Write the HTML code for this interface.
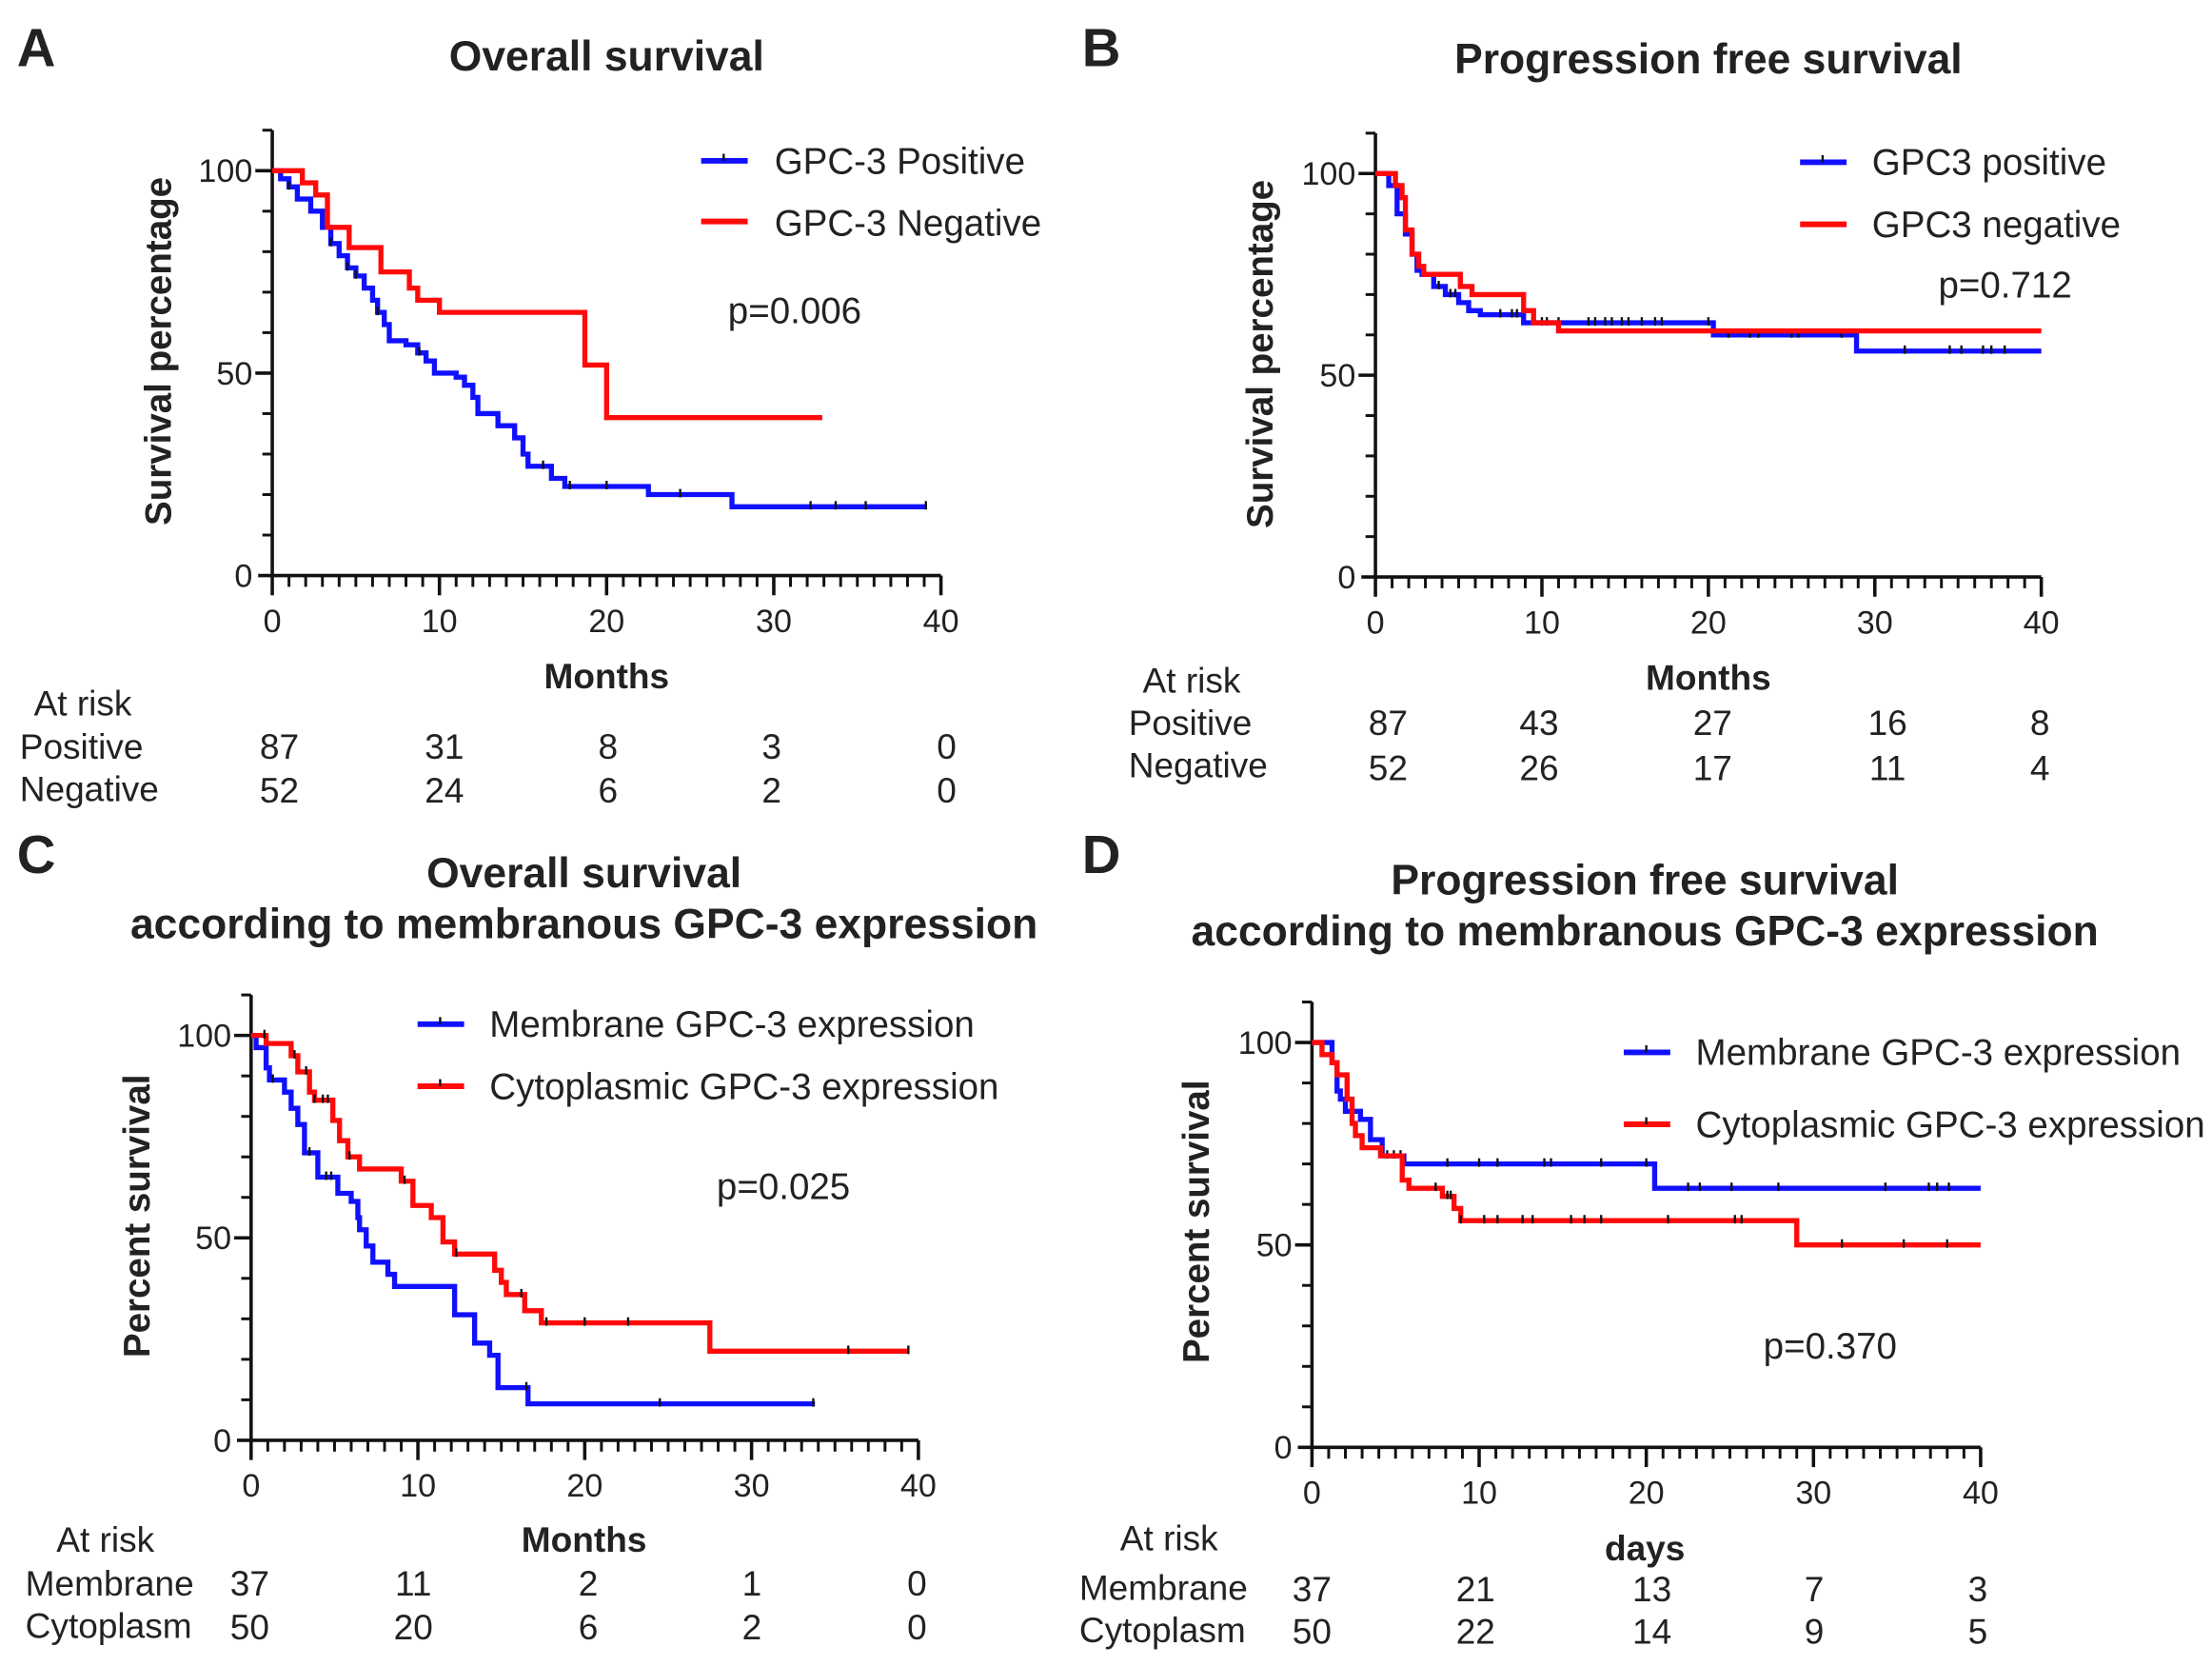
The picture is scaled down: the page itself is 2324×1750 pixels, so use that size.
<!DOCTYPE html>
<html><head><meta charset="utf-8">
<style>
html,body{margin:0;padding:0;background:#fff;}
svg{display:block;}
text{font-family:"Liberation Sans",Arial,sans-serif;fill:#222;}
.b{font-weight:bold;}
</style></head>
<body>
<svg id="fig" width="2324" height="1750" viewBox="0 0 1568 1181" preserveAspectRatio="none" xmlns="http://www.w3.org/2000/svg">
<rect width="1568" height="1181" fill="#fff"/>
<g>
<text x="12" y="47" class="b" font-size="38">A</text>
<text x="430" y="50" class="b" font-size="30" text-anchor="middle">Overall survival</text>
<text transform="translate(121,249) rotate(-90)" class="b" font-size="26" text-anchor="middle">Survival percentage</text>
<text x="430" y="488" class="b" font-size="25" text-anchor="middle">Months</text>
<text x="549" y="123" font-size="26">GPC-3 Positive</text>
<text x="549" y="167" font-size="26">GPC-3 Negative</text>
<text x="516" y="229" font-size="26">p=0.006</text>
<text x="24" y="507" font-size="25">At risk</text>
<text x="14" y="538" font-size="25">Positive</text>
<text x="14" y="568" font-size="25">Negative</text>
</g>
<g>
<text x="767" y="47" class="b" font-size="38">B</text>
<text x="1211" y="52" class="b" font-size="30" text-anchor="middle">Progression free survival</text>
<text transform="translate(902,251) rotate(-90)" class="b" font-size="26" text-anchor="middle">Survival percentage</text>
<text x="1211" y="489" class="b" font-size="25" text-anchor="middle">Months</text>
<text x="1327" y="124" font-size="26">GPC3 positive</text>
<text x="1327" y="168" font-size="26">GPC3 negative</text>
<text x="1374" y="211" font-size="26">p=0.712</text>
<text x="810" y="491" font-size="25">At risk</text>
<text x="800" y="521" font-size="25">Positive</text>
<text x="800" y="551" font-size="25">Negative</text>
</g>
<g>
<text x="12" y="619" class="b" font-size="38">C</text>
<text x="414" y="629" class="b" font-size="30" text-anchor="middle">Overall survival</text>
<text x="414" y="665" class="b" font-size="30" text-anchor="middle">according to membranous GPC-3 expression</text>
<text transform="translate(106,862) rotate(-90)" class="b" font-size="26" text-anchor="middle">Percent survival</text>
<text x="414" y="1100" class="b" font-size="25" text-anchor="middle">Months</text>
<text x="347" y="735" font-size="26">Membrane GPC-3 expression</text>
<text x="347" y="779" font-size="26">Cytoplasmic GPC-3 expression</text>
<text x="508" y="850" font-size="26">p=0.025</text>
<text x="40" y="1100" font-size="25">At risk</text>
<text x="18" y="1131" font-size="25">Membrane</text>
<text x="18" y="1161" font-size="25">Cytoplasm</text>
</g>
<g>
<text x="767" y="619" class="b" font-size="38">D</text>
<text x="1166" y="634" class="b" font-size="30" text-anchor="middle">Progression free survival</text>
<text x="1166" y="670" class="b" font-size="30" text-anchor="middle">according to membranous GPC-3 expression</text>
<text transform="translate(857,866) rotate(-90)" class="b" font-size="26" text-anchor="middle">Percent survival</text>
<text x="1166" y="1106" class="b" font-size="25" text-anchor="middle">days</text>
<text x="1202" y="755" font-size="26">Membrane GPC-3 expression</text>
<text x="1202" y="806" font-size="26">Cytoplasmic GPC-3 expression</text>
<text x="1250" y="963" font-size="26">p=0.370</text>
<text x="794" y="1099" font-size="25">At risk</text>
<text x="765" y="1134" font-size="25">Membrane</text>
<text x="765" y="1164" font-size="25">Cytoplasm</text>
</g>
</svg>
<script>
// ---- Data ----
const xTicks = [0, 10, 20, 30, 40];
const yTicks = [0, 50, 100];
// Panel A
const aPosT = [0.5,1,1.5,2.3,3,3.5,4,4.5,5,5.5,6,6.3,6.7,7,8,8.7,9.2,9.7,11,11.5,12,12.3,13.5,14.5,15,15.3,16.7,17.5,22.5,27.5];
const aPosS = [98,96,93,90,86,82,79,76,74,71,68,65,62,58,57,55,53,50,49,47,44,40,37,34,30,27,24,22,20,17];
const aPosEnd = 39.1;
const aPosCens = [1,3.5,4.5,5,6.3,8.8,16.2,17.8,20,24.4,32.2,33.7,35.5,39.1];
const aNegT = [1.8,2.6,3.3,4.6,6.5,8.2,8.7,10,18.7,20];
const aNegS = [97,94,86,81,75,71,68,65,52,39];
const aNegEnd = 32.9;
const aNegCens = [];
const aRiskPos = [87,31,8,3,0];
const aRiskNeg = [52,24,6,2,0];
// Panel B
const bPosT = [0.8,1.3,1.8,2.2,2.5,2.8,3.5,4.2,5,5.6,6.3,8.9,20.3,28.9];
const bPosS = [97,90,85,80,76,75,72,70,68,66,65,63,60,56];
const bPosEnd = 40;
const bPosCens = [3.8,4.5,4.8,7.5,8.2,8.5,10,10.3,11,12.8,13.2,13.8,14.2,14.8,15.2,16,16.8,17.2,20,21.2,22.5,23,25,25.4,28,31.8,34.5,35.2,36.5,37,37.8];
const bNegT = [1.2,1.6,1.8,2.2,2.6,2.9,5.1,5.8,8.9,9.5,11];
const bNegS = [97,94,86,80,77,75,72,70,66,63,61];
const bNegEnd = 40;
const bNegCens = [];
const bRiskPos = [87,43,27,16,8];
const bRiskNeg = [52,26,17,11,4];
// Panel C
const cMemT = [0.3,0.9,1.1,2,2.4,2.8,3.2,4,5.2,6,6.4,6.5,6.9,7.3,8.2,8.6,12.2,13.4,14.3,14.8,16.6];
const cMemS = [97,92,89,86,82,78,71,65,61,59,55,52,48,44,41,38,31,24,21,13,9];
const cMemEnd = 33.8;
const cMemCens = [1.3,3.5,4.5,4.8,16.5,24.5,33.7];
const cCytT = [0.9,2.4,2.8,3.5,3.8,4.9,5.3,5.8,6.5,9,9.7,10.8,11.5,12.2,14.6,15,15.3,16.4,17.4,27.5];
const cCytS = [98,95,91,86,84,79,74,70,67,64,58,55,49,46,42,39,36,32,29,22];
const cCytEnd = 39.4;
const cCytCens = [0.8,2.6,3.3,3.8,4.3,4.6,5.9,9.2,12.3,16.2,17.7,20,22.6,35.8,39.4];
const cRiskMem = [37,11,2,1,0];
const cRiskCyt = [50,20,6,2,0];
// Panel D
const dMemT = [1.2,1.5,1.7,2.0,2.9,3.5,4.2,5.5,20.5];
const dMemS = [95,88,86,83,81,76,72,70,64];
const dMemEnd = 40;
const dMemCens = [4.5,4.9,5.3,8.1,10,11.1,13.9,14.3,17.3,20,22.5,23.2,25.1,27.9,34.3,36.9,37.4,38.1];
const dCytT = [0.6,1.2,1.5,2.1,2.4,2.6,3.0,4.1,5.4,5.8,7.8,8.5,8.9,29];
const dCytS = [97,95,92,86,80,77,74,72,66,64,62,59,56,50];
const dCytEnd = 40;
const dCytCens = [7.4,8.1,8.3,8.9,10.3,11.1,12.6,13.2,15.5,16.3,17.3,21.3,25.3,25.7,31.7,35.4,38];
const dRiskMem = [37,21,13,7,3];
const dRiskCyt = [50,22,14,9,5];

const NS = "http://www.w3.org/2000/svg";
const svg = document.getElementById('fig');
function mk(tag, attrs, parent){
  const e = document.createElementNS(NS, tag);
  for (const k in attrs) e.setAttribute(k, attrs[k]);
  (parent||svg).appendChild(e);
  return e;
}
const BLUE = "#1010ff", RED = "#ff0a0a";

function panel(id, g, series, risk){
  const xs = v => g.x0 + (g.x1 - g.x0) * v / 40;
  const ys = v => g.y0 - (g.y0 - g.y100) * v / 100;
  const grp = mk('g', {});
  
  
  const ax = mk('g', {stroke:'#111', 'stroke-width':2.4, fill:'none'}, grp);
  
  
  mk('line', {x1:g.x0, y1:ys(110), x2:g.x0, y2:g.y0}, ax);
  mk('line', {x1:g.x0-10, y1:g.y0, x2:g.x1, y2:g.y0}, ax);
  for (let v = 10; v <= 110; v += 10){
    const major = yTicks.indexOf(v) >= 0;
    mk('line', {x1:g.x0 - (major?12:7), y1:ys(v), x2:g.x0, y2:ys(v), 'stroke-width':major?2.4:2}, ax);
  }
  for (let m = 1; m <= 40; m++){
    const major = m % 10 === 0;
    mk('line', {x1:xs(m), y1:g.y0, x2:xs(m), y2:g.y0 + (major?14:8), 'stroke-width':major?2.4:2}, ax);
  }
  mk('line', {x1:g.x0, y1:g.y0, x2:g.x0, y2:g.y0 + 14}, ax);
  yTicks.forEach(v => {
    const t = mk('text', {x:g.x0 - 14, y:ys(v) + 8, 'font-size':23, 'text-anchor':'end'}, grp);
    
    
    t.textContent = v;
  });
  xTicks.forEach(v => {
    const t = mk('text', {x:xs(v), y:g.y0 + 40, 'font-size':23, 'text-anchor':'middle'}, grp);
    
    
    t.textContent = v;
  });
  series.forEach(s => {
    let d = 'M' + xs(0) + ' ' + ys(100);
    for (let i = 0; i < s.t.length; i++) d += ' H' + xs(s.t[i]) + ' V' + ys(s.s[i]);
    d += ' H' + xs(s.end);
    const p = mk('path', {d:d, stroke:s.color, 'stroke-width':3.6, fill:'none'}, grp);
    
    
    s.cens.forEach(c => {
      let val = 100;
      for (let i = 0; i < s.t.length; i++) if (s.t[i] <= c) val = s.s[i];
      const m = mk('line', {x1:xs(c), y1:ys(val) - 4, x2:xs(c), y2:ys(val) + 2, stroke:'#111', 'stroke-width':1.6}, grp);
      
      
    });
    const l = mk('line', {x1:s.lx, y1:s.ly, x2:s.lx + 33, y2:s.ly, stroke:s.color, 'stroke-width':4}, grp);
    
    
    if (s.legTick){
      const lt = mk('line', {x1:s.lx + 16, y1:s.ly - 5, x2:s.lx + 16, y2:s.ly, stroke:'#111', 'stroke-width':1.6}, grp);
      
      
    }
  });
  risk.forEach(r => {
    r.vals.forEach((v, i) => {
      const t = mk('text', {x:r.xs[i], y:r.y, 'font-size':25, 'text-anchor':'middle'}, grp);
      
      
      t.textContent = v;
    });
  });
}

panel('a', {x0:193, x1:667, y100:121, y0:408}, [
  {name:'positive', t:aPosT, s:aPosS, end:aPosEnd, cens:aPosCens, color:BLUE, lx:497, ly:114, legTick:true},
  {name:'negative', t:aNegT, s:aNegS, end:aNegEnd, cens:aNegCens, color:RED, lx:497, ly:157, legTick:false}
], [
  {vals:aRiskPos, xs:[198,315,431,547,671], y:538},
  {vals:aRiskNeg, xs:[198,315,431,547,671], y:569}
]);
panel('b', {x0:975, x1:1447, y100:123, y0:409}, [
  {name:'positive', t:bPosT, s:bPosS, end:bPosEnd, cens:bPosCens, color:BLUE, lx:1276, ly:115, legTick:true},
  {name:'negative', t:bNegT, s:bNegS, end:bNegEnd, cens:bNegCens, color:RED, lx:1276, ly:159, legTick:false}
], [
  {vals:bRiskPos, xs:[984,1091,1214,1338,1446], y:521},
  {vals:bRiskNeg, xs:[984,1091,1214,1338,1446], y:553}
]);
panel('c', {x0:178, x1:651, y100:734, y0:1021}, [
  {name:'membrane', t:cMemT, s:cMemS, end:cMemEnd, cens:cMemCens, color:BLUE, lx:296, ly:726, legTick:true},
  {name:'cytoplasmic', t:cCytT, s:cCytS, end:cCytEnd, cens:cCytCens, color:RED, lx:296, ly:770, legTick:true}
], [
  {vals:cRiskMem, xs:[177,293,417,533,650], y:1131},
  {vals:cRiskCyt, xs:[177,293,417,533,650], y:1162}
]);
panel('d', {x0:930, x1:1404, y100:739, y0:1026}, [
  {name:'membrane', t:dMemT, s:dMemS, end:dMemEnd, cens:dMemCens, color:BLUE, lx:1151, ly:746, legTick:true},
  {name:'cytoplasmic', t:dCytT, s:dCytS, end:dCytEnd, cens:dCytCens, color:RED, lx:1151, ly:797, legTick:true}
], [
  {vals:dRiskMem, xs:[930,1046,1171,1286,1402], y:1135},
  {vals:dRiskCyt, xs:[930,1046,1171,1286,1402], y:1165}
]);
</script>
</body></html>
